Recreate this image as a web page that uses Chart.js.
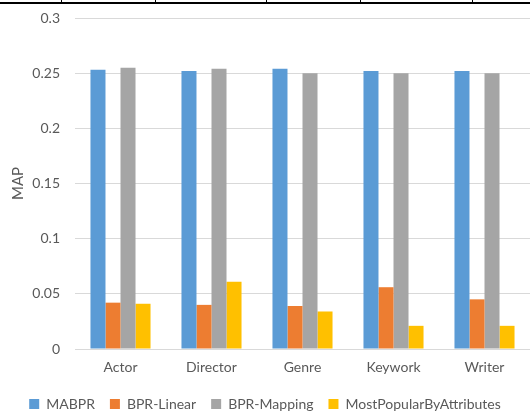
<!DOCTYPE html>
<html>
<head>
<meta charset="utf-8">
<script src="https://cdn.jsdelivr.net/npm/chart.js@4/dist/chart.umd.min.js"></script>
<style>
  html, body { margin: 0; padding: 0; background: #fff; }
  #wrap { position: relative; width: 530px; height: 411px; overflow: hidden; }
  canvas { display: block; }
  .rule { position: absolute; background: #000; }
</style>
</head>
<body>
<div id="wrap">
  <canvas id="chart" width="530" height="411"></canvas>
  <!-- page table border above the figure -->
  <div class="rule" style="left:0;top:2px;width:530px;height:2px;"></div>
  <div class="rule" style="left:61px;top:0;width:1px;height:3px;"></div>
  <div class="rule" style="left:155px;top:0;width:1px;height:3px;"></div>
  <div class="rule" style="left:266px;top:0;width:1px;height:3px;"></div>
  <div class="rule" style="left:360px;top:0;width:1px;height:3px;"></div>
  <div class="rule" style="left:472px;top:0;width:1px;height:3px;"></div>
</div>
<script>
const categories = ["Actor", "Director", "Genre", "Keywork", "Writer"];
const seriesNames = ["MABPR", "BPR-Linear", "BPR-Mapping", "MostPopularByAttributes"];
const mabpr = [0.253, 0.252, 0.254, 0.252, 0.252];
const bprLinear = [0.042, 0.040, 0.039, 0.056, 0.045];
const bprMapping = [0.255, 0.254, 0.250, 0.250, 0.250];
const mostPopular = [0.041, 0.061, 0.034, 0.021, 0.021];
const yTicks = [0, 0.05, 0.1, 0.15, 0.2, 0.25, 0.3];
const colors = ["#5B9BD5", "#ED7D31", "#A5A5A5", "#FFC000"];

const FONT = "Lato, 'Open Sans', sans-serif";
const TEXT = "#595959";

const seriesValues = [mabpr, bprLinear, bprMapping, mostPopular];
const datasets = seriesNames.map((name, i) => ({
  label: name,
  data: seriesValues[i],
  backgroundColor: colors[i],
  borderWidth: 0,
  categoryPercentage: 0.66,
  barPercentage: 1.0
}));

new Chart(document.getElementById("chart"), {
  type: "bar",
  data: { labels: categories, datasets },
  options: {
    responsive: false,
    animation: false,
    layout: { padding: { top: 18, right: 0, left: 0, bottom: -10 } },
    plugins: {
      tooltip: { enabled: false },
      legend: {
        position: "bottom",
        labels: {
          boxWidth: 10,
          boxHeight: 10,
          padding: 15,
          color: TEXT,
          font: { family: FONT, size: 14 }
        }
      }
    },
    scales: {
      x: {
        grid: { display: false, drawTicks: false, tickLength: 0 },
        border: { display: false },
        afterFit: (axis) => { axis.height = 33; axis.paddingLeft = 0; axis.paddingRight = 0; },
        ticks: { color: TEXT, font: { family: FONT, size: 14 }, padding: 10 }
      },
      y: {
        min: 0,
        max: 0.3,
        afterBuildTicks: (axis) => { axis.ticks = yTicks.map(v => ({ value: v })); },
        afterFit: (axis) => { axis.width = 75; axis.paddingTop = 0; axis.paddingBottom = 0; },
        grid: { color: "#D9D9D9", lineWidth: 1, tickLength: 0, drawTicks: false },
        border: { display: false },
        title: {
          display: true,
          text: "MAP",
          color: TEXT,
          font: { family: FONT, size: 15 },
          padding: { top: 9, bottom: 0 }
        },
        ticks: {
          color: TEXT,
          font: { family: FONT, size: 14 },
          padding: 15,
          callback: (v) => String(v)
        }
      }
    }
  }
});
</script>
</body>
</html>
